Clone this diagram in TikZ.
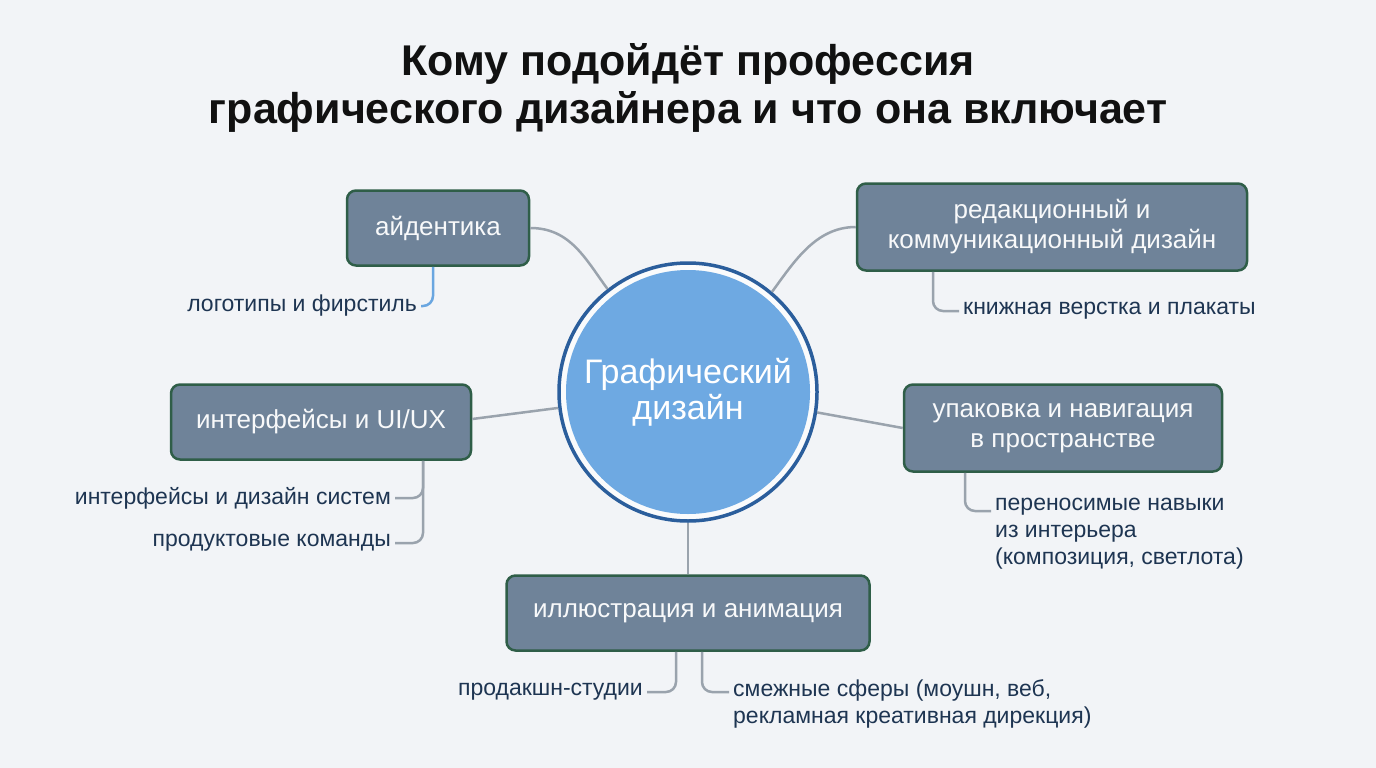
\documentclass[tikz,border=0pt]{standalone}
\usepackage{fontspec}
\setmainfont{Liberation Sans}
\usetikzlibrary{positioning}

\definecolor{bgcol}{HTML}{F2F4F7}
\definecolor{boxfill}{HTML}{6F8399}
\definecolor{boxline}{HTML}{2F5E48}
\definecolor{linkgray}{HTML}{9AA3AD}
\definecolor{linkblue}{HTML}{6AA6E0}
\definecolor{corefill}{HTML}{6EA9E2}
\definecolor{coreline}{HTML}{2B5E9C}
\definecolor{leaftext}{HTML}{1E3552}
\definecolor{titletext}{HTML}{111111}

\begin{document}
\begin{tikzpicture}[x=1pt,y=-1pt,
    topic/.style={draw=boxline,line width=2.5pt,fill=boxfill,rounded corners=9pt,
      text=white!95!boxfill,align=center,font=\fontsize{26}{30}\selectfont},
    leaf/.style={text=leaftext,inner sep=4pt,font=\fontsize{23}{27}\selectfont},
    link/.style={draw=linkgray,line width=2.5pt},
    twig/.style={draw=linkgray,line width=2.5pt,rounded corners=10pt}]
      \fill[bgcol] (0,0) rectangle (1376,768);
      \useasboundingbox (0,0) rectangle (1376,768);

      % title
      \node (title) [text=titletext,align=center,font=\bfseries\fontsize{43}{48}\selectfont]
        at (688,88) {Кому подойдёт профессия\\графического дизайнера и что она включает};

      % centre
      \node (core) [circle,minimum size=258pt,inner sep=0pt,draw=coreline,line width=3.5pt,
        fill=white!60!bgcol,text=white,align=center,font=\fontsize{34}{36}\selectfont,
        path picture={\fill[corefill] (path picture bounding box.center) circle (122pt);}]
        at (688,392) {Графический\\дизайн};

      % topics
      \node (ident) [topic,minimum width=182pt,minimum height=75pt] at (438,228) {айдентика};
      \node (edit) [topic,minimum width=390pt,minimum height=87pt] at (1052,227)
        {редакционный и\\коммуникационный дизайн};
      \node (ui) [topic,minimum width=300pt,minimum height=75pt] at (321,422) {интерфейсы и UI/UX};
      \node (pack) [topic,minimum width=318pt,minimum height=87pt] at (1063,428)
        {упаковка и навигация\\в пространстве};
      \node (illus) [topic,minimum width=363pt,minimum height=75pt] at (688,613)
        {иллюстрация и анимация};

      % leaves
      \node (logo) [leaf,anchor=east] at (421,306) {логотипы и фирстиль};
      \node (uisys) [leaf,anchor=east] at (395,498) {интерфейсы и дизайн систем};
      \node (uiprod) [leaf,anchor=east] at (395,543) {продуктовые команды};
      \node (book) [leaf,anchor=west] at (959,311) {книжная верстка и плакаты};
      \node (skills) [leaf,anchor=north west,align=left] at (991,494)
        {переносимые навыки\\из интерьера\\(композиция, светлота)};
      \node (studio) [leaf,anchor=east] at (647,692) {продакшн-студии};
      \node (adj) [leaf,anchor=north west,align=left] at (729,675)
        {смежные сферы (моушн, веб,\\рекламная креативная дирекция)};

      % links to the centre
      \draw[link] (ident.east) .. controls +(40,0) and +(-22,-30) .. (core.128);
      \draw[link] (edit.west) .. controls +(-40,0) and +(22,-30) .. (core.50);
      \draw[link] ([yshift=3pt]ui.east) -- (core.187);
      \draw[link] (pack.west) -- (core.351);
      \draw[link] (illus.north) -- (core.south);

      % twigs to the leaves
      \draw[twig,draw=linkblue] ([xshift=-5pt]ident.south) |- (logo.east);
      \draw[twig] ([xshift=102pt]ui.south) |- (uisys.east);
      \draw[twig] ([xshift=102pt]ui.south) |- (uiprod.east);
      \draw[twig] ([xshift=-119pt]edit.south) |- (book.west);
      \draw[twig] ([xshift=-98pt]pack.south) |- ([yshift=-17pt]skills.north west);
      \draw[twig] ([xshift=-12pt]illus.south) |- (studio.east);
      \draw[twig] ([xshift=14pt]illus.south) |- ([yshift=-17pt]adj.north west);
\end{tikzpicture}
\end{document}
